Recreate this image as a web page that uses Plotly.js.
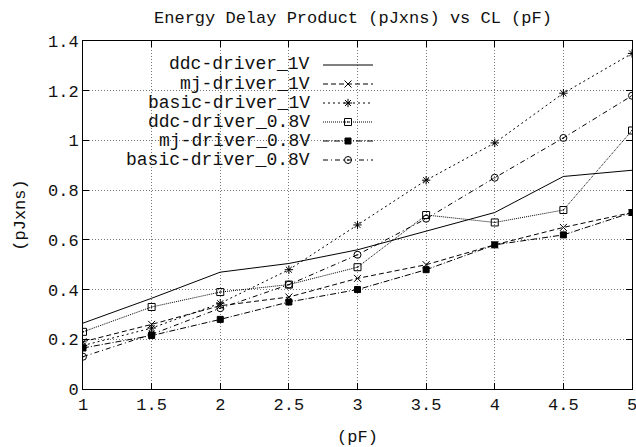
<!DOCTYPE html>
<html>
<head>
<meta charset="utf-8">
<script src="https://cdn.plot.ly/plotly-3.0.1.min.js"></script>
<style>html,body{margin:0;padding:0;background:#fff;}#chart{width:636px;height:447px;}</style>
</head>
<body>
<div id="chart"></div>
<script>
const capacitance = [1, 1.5, 2, 2.5, 3, 3.5, 4, 4.5, 5];
const seriesNames = ["ddc-driver_1V", "mj-driver_1V", "basic-driver_1V", "ddc-driver_0.8V", "mj-driver_0.8V", "basic-driver_0.8V"];
const ddcDriver1V = [0.265, 0.365, 0.47, 0.505, 0.56, 0.635, 0.71, 0.855, 0.88];
const mjDriver1V = [0.19, 0.26, 0.335, 0.37, 0.445, 0.5, 0.58, 0.65, 0.71];
const basicDriver1V = [0.175, 0.245, 0.345, 0.48, 0.66, 0.84, 0.99, 1.19, 1.35];
const ddcDriver08V = [0.23, 0.33, 0.39, 0.42, 0.49, 0.70, 0.67, 0.72, 1.04];
const mjDriver08V = [0.165, 0.215, 0.28, 0.35, 0.40, 0.48, 0.58, 0.62, 0.71];
const basicDriver08V = [0.13, 0.22, 0.325, 0.42, 0.54, 0.685, 0.85, 1.01, 1.18];
const xTicks = [1, 1.5, 2, 2.5, 3, 3.5, 4, 4.5, 5];
const yTicks = [0, 0.2, 0.4, 0.6, 0.8, 1, 1.2, 1.4];

const values = [ddcDriver1V, mjDriver1V, basicDriver1V, ddcDriver08V, mjDriver08V, basicDriver08V];
const styles = [
  {dash: "solid", mode: "lines", symbol: "circle", size: 1},
  {dash: "5px,3px", mode: "lines+markers", symbol: "x-thin-open", size: 7},
  {dash: "2px,3px", mode: "lines+markers", symbol: "asterisk-open", size: 7},
  {dash: "1px,1px", mode: "lines+markers", symbol: "square-open-dot", size: 7},
  {dash: "6px,2px,1px,2px", mode: "lines+markers", symbol: "square", size: 6},
  {dash: "5px,3px,1px,3px", mode: "lines+markers", symbol: "circle-open-dot", size: 7}
];

const FONT = "Liberation Mono, Courier New, monospace";
const TXT = "#111";
const L = 83, T = 41, W = 549, H = 348;

const traces = values.map((v, i) => ({
  x: capacitance, y: v, type: "scatter", mode: styles[i].mode, name: "",
  line: {color: "#000", width: 1, dash: styles[i].dash},
  marker: {symbol: styles[i].symbol, size: styles[i].size, color: "#000", line: {color: "#000", width: 1}},
  showlegend: true
}));

const rowY = [64.5, 83.5, 102.5, 121.5, 140.5, 159.5];
const annotations = seriesNames.map((n, i) => ({
  xref: "paper", yref: "paper", x: (312 - L) / W, y: (T + H - rowY[i]) / H,
  xanchor: "right", yanchor: "middle", text: n, showarrow: false,
  font: {family: FONT, size: 18, color: TXT}
}));

const tickFont = {family: FONT, size: 17, color: TXT};

const layout = {
  width: 636, height: 447,
  margin: {l: L, r: 636 - L - W, t: T, b: 447 - T - H},
  paper_bgcolor: "#fff", plot_bgcolor: "#fff",
  font: {family: FONT, size: 17, color: TXT},
  title: {text: "Energy Delay Product (pJxns) vs CL (pF)", x: 0.555, xanchor: "center", y: 0.962, yanchor: "middle",
          font: {family: FONT, size: 17, color: TXT}},
  xaxis: {
    range: [1, 5], tickvals: xTicks, ticktext: xTicks.map(String),
    showgrid: true, gridcolor: "#777", griddash: "1px,2px", gridwidth: 1,
    zeroline: false, showline: true, linecolor: "#000", linewidth: 1, mirror: "ticks",
    ticks: "inside", ticklen: 6, tickcolor: "#000", ticklabeloverflow: "allow",
    title: {text: "(pF)", font: tickFont},
    tickfont: tickFont
  },
  yaxis: {
    range: [0, 1.4], tickvals: yTicks, ticktext: yTicks.map(String),
    showgrid: true, gridcolor: "#777", griddash: "1px,2px", gridwidth: 1,
    zeroline: false, showline: true, linecolor: "#000", linewidth: 1, mirror: "ticks",
    ticks: "inside", ticklen: 6, tickcolor: "#000",
    automargin: true,
    title: {text: "(pJxns)", standoff: 18, font: tickFont},
    tickfont: tickFont
  },
  legend: {
    x: (318 - L) / W, xanchor: "left", y: (T + H - 50.5) / H, yanchor: "top",
    bgcolor: "rgba(0,0,0,0)", borderwidth: 0, itemwidth: 50,
    font: {family: FONT, size: 10, color: TXT}, traceorder: "normal"
  },
  shapes: [{
    type: "rect", xref: "x", yref: "y", layer: "below",
    x0: 1 + (123 - L) / 137.25, x1: 1 + (383 - L) / 137.25,
    y0: (T + H - 168) / 248.57, y1: (T + H - 56) / 248.57,
    fillcolor: "#fff", line: {width: 0}
  }],
  annotations: annotations
};

Plotly.newPlot("chart", traces, layout, {displayModeBar: false, staticPlot: true});
</script>
</body>
</html>
